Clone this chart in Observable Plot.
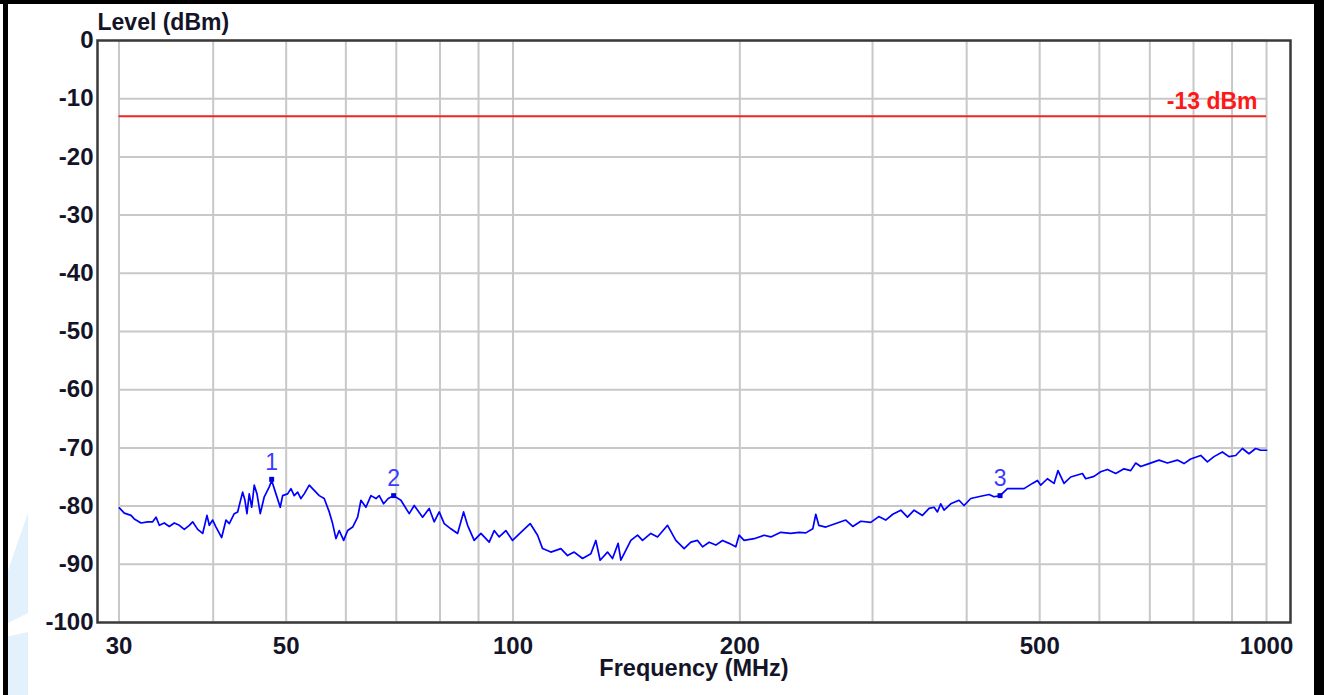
<!DOCTYPE html>
<html>
<head>
<meta charset="utf-8">
<script src="https://cdn.jsdelivr.net/npm/d3@7"></script>
<script src="https://cdn.jsdelivr.net/npm/@observablehq/plot@0.6"></script>
<style>
  html, body { margin: 0; padding: 0; background: #fff; }
  #wrap { position: relative; width: 1324px; height: 695px; overflow: hidden; }
  .bar { position: absolute; background: #000; z-index: 3; }
  .pale { position: absolute; background: #e2f1fc; z-index: 2; }
  svg text { font-family: "Liberation Sans", Arial, sans-serif; }
</style>
</head>
<body>
<div id="wrap">
  <div class="bar" style="left:0;top:0;width:1324px;height:4px;"></div>
  <div class="bar" style="left:3px;top:0;width:5px;height:695px;"></div>
  <div class="bar" style="left:1314px;top:0;width:10px;height:695px;"></div>
  <div class="pale" style="left:8px;top:513px;width:20px;height:110px;clip-path:polygon(100% 0,100% 91%,0 100%,0 52%);"></div>
  <div class="pale" style="left:8px;top:630px;width:20px;height:65px;clip-path:polygon(0 10%,100% 3%,100% 100%,0 100%);"></div>
  <div id="chart"></div>
</div>
<script>
// Frequency (MHz) of each trace sample
const freq = [30.03,30.49,31.12,31.43,32.09,32.75,33.25,33.59,33.93,34.45,34.98,35.52,36.07,36.62,37.19,37.57,38.15,38.74,39.25,39.53,39.94,40.35,41.05,41.60,42.02,42.66,43.11,43.32,43.77,44.08,44.35,44.66,45.00,45.35,45.73,46.19,46.76,47.48,47.83,48.46,49.10,49.46,50.22,50.73,51.24,51.78,52.30,52.83,53.65,54.47,55.31,56.16,57.03,57.62,58.21,58.80,59.60,60.33,61.26,62.20,62.83,63.80,64.78,65.78,66.44,67.34,68.29,69.43,70.99,72.82,73.94,75.86,77.41,78.59,79.81,81.04,82.71,84.42,85.98,87.04,88.81,90.65,92.98,94.41,95.86,97.84,99.86,102.43,105.38,107.79,109.45,112.26,115.74,118.13,120.54,123.67,126.85,128.79,130.50,133.48,135.54,137.88,139.03,143.34,146.31,148.56,152.37,155.53,160.35,164.47,168.69,172.18,175.75,178.44,182.08,185.85,189.68,193.55,197.54,199.54,202.62,208.91,215.39,219.85,226.66,233.68,239.69,244.65,249.94,252.23,254.56,260.07,268.13,276.45,282.41,289.42,298.38,305.77,312.34,319.14,327.05,333.80,340.61,349.44,356.57,362.06,365.82,369.53,373.28,381.01,390.78,396.80,405.02,417.56,428.30,434.90,442.93,453.05,467.12,476.61,489.02,496.56,501.60,511.94,522.38,528.80,538.57,549.73,569.71,575.49,590.29,602.46,614.94,630.76,646.92,660.32,670.50,680.84,698.29,719.98,738.65,761.59,777.06,793.16,817.80,834.65,851.68,873.84,891.59,910.06,928.90,947.76,967.39,982.30,1000];
// Level (dBm) of each trace sample
const level = [-80.3,-81.2,-81.6,-82.2,-82.9,-82.7,-82.7,-81.9,-83.3,-82.9,-83.5,-82.9,-83.3,-84.0,-83.3,-82.7,-84.0,-84.7,-81.6,-83.3,-82.4,-83.6,-85.4,-82.4,-83.0,-81.3,-81.0,-79.9,-77.6,-79.0,-81.3,-77.9,-80.2,-76.4,-77.9,-81.3,-78.4,-76.7,-75.6,-77.9,-80.2,-78.2,-77.9,-77.0,-78.2,-77.6,-78.7,-77.9,-76.4,-77.3,-78.2,-78.7,-81.0,-83.0,-85.6,-84.2,-85.9,-84.2,-83.6,-81.9,-79.0,-80.2,-78.2,-78.7,-78.2,-79.6,-78.7,-78.2,-79.0,-81.3,-79.9,-81.9,-80.4,-82.7,-81.0,-83.0,-83.9,-84.7,-81.0,-83.3,-85.9,-84.7,-86.2,-84.2,-85.3,-84.2,-85.9,-84.5,-83.0,-85.0,-87.3,-87.9,-87.3,-88.5,-87.9,-89.0,-88.2,-85.9,-89.3,-87.9,-89.0,-86.4,-89.3,-85.9,-85.0,-85.9,-84.7,-85.3,-83.3,-85.9,-87.3,-86.2,-85.9,-87.0,-86.2,-86.7,-85.9,-86.4,-87.0,-85.0,-85.9,-85.6,-85.0,-85.3,-84.5,-84.7,-84.5,-84.6,-83.9,-81.4,-83.3,-83.6,-83.0,-82.4,-83.5,-82.6,-82.8,-81.8,-82.4,-81.4,-80.7,-81.9,-80.7,-81.6,-80.4,-80.2,-81.0,-79.6,-80.7,-79.6,-79.0,-79.9,-78.7,-78.3,-78.0,-78.4,-78.2,-77.0,-77.0,-77.0,-76.1,-75.6,-76.4,-75.3,-76.1,-73.9,-76.1,-75.0,-74.4,-75.3,-74.9,-74.1,-73.7,-74.4,-73.6,-73.9,-72.6,-73.2,-72.7,-72.1,-72.6,-72.1,-72.7,-71.9,-71.3,-72.4,-71.5,-70.7,-71.5,-71.3,-70.1,-71.0,-70.1,-70.4,-70.4];

// Markers
const markerFreq = [47.83, 69.43, 442.93];
const markerLevel = [-75.4, -78.2, -78.2];
const markerLabel = ["1", "2", "3"];

// Limit line
const limitLevel = -13;
const limitLabel = "-13 dBm";

// Axes / grid
const xTicks = [30, 50, 100, 200, 500, 1000];
const xGrid = [30, 40, 50, 60, 70, 80, 90, 100, 200, 300, 400, 500, 600, 700, 800, 900, 1000];
const yTicks = [0, -10, -20, -30, -40, -50, -60, -70, -80, -90, -100];
const xLabel = "Frequency (MHz)";
const yLabel = "Level (dBm)";

const trace = freq.map((f, i) => ({f, v: level[i]}));
const markers = markerFreq.map((f, i) => ({f, v: markerLevel[i], label: markerLabel[i]}));

const font = "Liberation Sans, Arial, sans-serif";
const ink = "#141428";
const chart = Plot.plot({
  width: 1324,
  height: 695,
  marginLeft: 97,
  marginRight: 34,
  marginTop: 40,
  marginBottom: 73,
  style: {fontFamily: font, background: "transparent", overflow: "visible"},
  x: {type: "log", domain: [28.09, 1076]},
  y: {domain: [-100, 0]},
  marks: [
    Plot.ruleX(xGrid, {y1: -100, y2: 0, stroke: "#c8c8c8", strokeWidth: 2}),
    Plot.ruleY(yTicks, {x1: 30, x2: 1000, stroke: "#c8c8c8", strokeWidth: 2}),
    Plot.ruleY([limitLevel], {x1: 30, x2: 1000, stroke: "#f02424", strokeWidth: 2}),
    Plot.text([limitLabel], {x: 1000, y: limitLevel, text: d => d, textAnchor: "end", lineAnchor: "middle", dx: -9, dy: -15, fill: "#ff1818", fontSize: 23, fontWeight: "bold"}),
    Plot.line(trace, {x: "f", y: "v", stroke: "#0000ff", strokeWidth: 1.7}),
    Plot.dot(markers, {x: "f", y: "v", symbol: "square", r: 2.8, fill: "#0000dd"}),
    Plot.text(markers, {x: "f", y: "v", text: "label", lineAnchor: "middle", dy: -17, fill: "#3b3bff", fontSize: 23}),
    Plot.frame({stroke: "#3a3a3a", strokeWidth: 2.5}),
    Plot.axisX(xTicks, {tickSize: 0, tickPadding: 14, fontSize: 24, fontWeight: "bold", fill: ink, tickFormat: d => String(d), label: null}),
    Plot.axisY(yTicks, {tickSize: 0, tickPadding: 4, fontSize: 24, fontWeight: "bold", fill: ink, tickFormat: d => String(d), label: null}),
    Plot.text([yLabel], {frameAnchor: "top-left", text: d => d, textAnchor: "start", lineAnchor: "middle", dy: -18, fontSize: 23, fontWeight: "bold", fill: ink}),
    Plot.text([xLabel], {frameAnchor: "bottom", text: d => d, lineAnchor: "middle", dy: 46, fontSize: 23.5, fontWeight: "bold", fill: ink})
  ]
});
document.getElementById("chart").appendChild(chart);
</script>
</body>
</html>
